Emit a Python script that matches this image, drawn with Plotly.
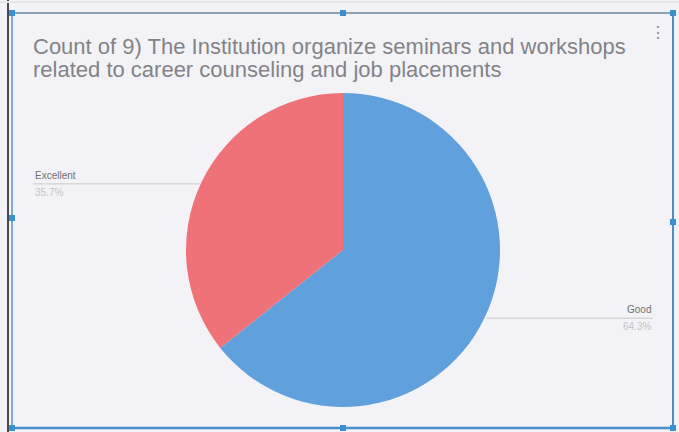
import math
import plotly.graph_objects as go

# ---- data ----
categories = ["Good", "Excellent"]
counts = [9, 5]
colors = ["#5FA0DD", "#F07279"]

W, H = 679, 432
title_lines = ["Count of 9) The Institution organize seminars and workshops",
               "related to career counseling and job placements"]

# pie geometry (pixels)
cx, cy, r = 343, 250, 157
dom_x = [(cx - r) / W, (cx + r) / W]
dom_y = [(H - cy - r) / H, (H - cy + r) / H]

fig = go.Figure(go.Pie(
    labels=categories, values=counts, sort=False, direction="clockwise",
    rotation=0, marker=dict(colors=colors, line=dict(width=0)),
    textinfo="none", hoverinfo="label+percent", showlegend=False,
    domain=dict(x=dom_x, y=dom_y),
))

shapes = []
annotations = []

# outside labels with leader lines computed from slice angles
total = sum(counts)
start = 0.0
for cat, v in zip(categories, counts):
    frac = v / total
    mid = (start + frac / 2) * 2 * math.pi  # clockwise from top
    start += frac
    px = cx + r * math.sin(mid)
    py = cy - r * math.cos(mid)
    pct = f"{frac*100:.1f}%"
    if math.sin(mid) >= 0:
        ly = py
        x0, x1 = px + 2, 653
        xa, anchor = x1, "right"
    else:
        ly = py + 2
        x0, x1 = 33, px - 2
        xa, anchor = x0, "left"
    shapes.append(dict(type="line", xref="paper", yref="paper",
                       x0=x0 / W, x1=x1 / W, y0=1 - ly / H, y1=1 - ly / H,
                       line=dict(color="#c8c8cc", width=1)))
    annotations.append(dict(x=xa / W, y=1 - (ly - 1) / H, xref="paper", yref="paper",
                            text=cat, showarrow=False, xanchor=anchor, yanchor="bottom",
                            font=dict(size=10, color="#707070", family="Liberation Sans")))
    annotations.append(dict(x=xa / W, y=1 - (ly + 1) / H, xref="paper", yref="paper",
                            text=pct, showarrow=False, xanchor=anchor, yanchor="top",
                            font=dict(size=10, color="#c4c4c8", family="Liberation Sans")))

# title (two lines, tight spacing)
for i, line in enumerate(title_lines):
    annotations.append(dict(x=31 / W, y=1 - (47 + 22 * i) / H, xref="paper", yref="paper",
                            text=line, showarrow=False, xanchor="left", yanchor="middle",
                            align="left",
                            font=dict(size=22, color="#838387", family="Liberation Sans")))
# menu dots
annotations.append(dict(x=658 / W, y=1 - 32 / H, xref="paper", yref="paper",
                        text="⋮", showarrow=False, xanchor="center", yanchor="middle",
                        font=dict(size=16, color="#8a8a8a")))

def px_line(x0, y0, x1, y1, color, width):
    shapes.append(dict(type="line", xref="paper", yref="paper",
                       x0=x0 / W, y0=1 - y0 / H, x1=x1 / W, y1=1 - y1 / H,
                       line=dict(color=color, width=width)))

# selection frame
px_line(8, 0, 8, H, "#4a4a4a", 2)
px_line(12, 13, 12, 428, "#5a95c8", 1.5)
px_line(12, 13, 673, 13, "#8fa0b0", 2)
px_line(673, 13, 673, 428, "#4a8fc8", 2)
px_line(12, 428, 673, 428, "#4a8fc8", 2.5)
px_line(0, 2, W, 2, "#e4e6ea", 2)

for hx, hy in [(12, 13), (343, 13), (673, 13), (12, 218), (673, 222),
               (12, 428), (343, 428), (673, 428)]:
    shapes.append(dict(type="rect", xref="paper", yref="paper",
                       x0=(hx - 3) / W, x1=(hx + 3) / W,
                       y0=1 - (hy + 3) / H, y1=1 - (hy - 3) / H,
                       fillcolor="#3a8fd0", line=dict(width=0)))

fig.update_layout(
    width=W, height=H, margin=dict(l=0, r=0, t=0, b=0),
    paper_bgcolor="#F3F3F7", plot_bgcolor="#F3F3F7",
    shapes=shapes, annotations=annotations,
)
fig.write_html("out.html", config={"displayModeBar": False})

# remove default page margin so the figure fills the window exactly
with open("out.html", encoding="utf-8") as f:
    html = f.read()
html = html.replace("<head>", "<head><style>html,body{margin:0;padding:0;overflow:hidden;}</style>", 1)
with open("out.html", "w", encoding="utf-8") as f:
    f.write(html)
